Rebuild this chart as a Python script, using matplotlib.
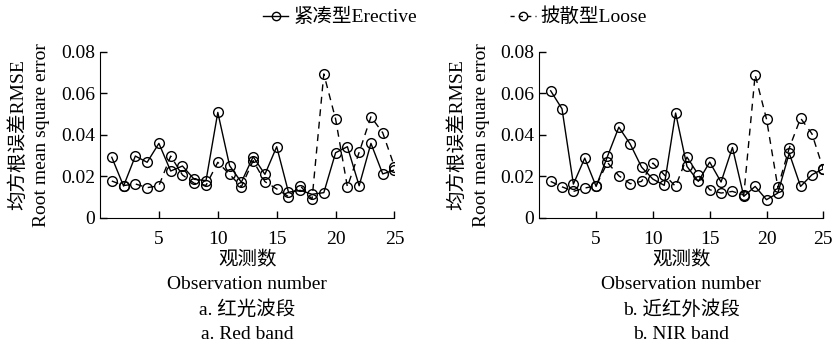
import matplotlib
matplotlib.use('Agg')
import matplotlib.pyplot as plt
from matplotlib.lines import Line2D

plt.rcParams['font.family'] = ['Liberation Serif', 'Noto Sans CJK SC']
plt.rcParams['font.size'] = 14
plt.rcParams['axes.unicode_minus'] = False

obs = list(range(1, 26))

# a. Red band
red_erective = [0.0292, 0.0154, 0.0298, 0.0268, 0.0359, 0.0226, 0.0250, 0.0186, 0.0180, 0.0508,
                0.0252, 0.0172, 0.0295, 0.0210, 0.0343, 0.0124, 0.0133, 0.0114, 0.0122, 0.0314,
                0.0343, 0.0155, 0.0359, 0.0212, 0.0231]
red_loose = [0.0178, 0.0156, 0.0164, 0.0146, 0.0155, 0.0298, 0.0207, 0.0167, 0.0157, 0.0268,
             0.0210, 0.0150, 0.0276, 0.0175, 0.0140, 0.0103, 0.0155, 0.0090, 0.0693, 0.0476,
             0.0150, 0.0316, 0.0487, 0.0410, 0.0247]

# b. NIR band
nir_erective = [0.0612, 0.0525, 0.0163, 0.0288, 0.0152, 0.0296, 0.0437, 0.0356, 0.0245, 0.0187,
                0.0157, 0.0505, 0.0248, 0.0176, 0.0269, 0.0173, 0.0339, 0.0104, 0.0152, 0.0088,
                0.0120, 0.0312, 0.0152, 0.0208, 0.0237]
nir_loose = [0.0176, 0.0150, 0.0128, 0.0144, 0.0155, 0.0267, 0.0203, 0.0165, 0.0176, 0.0264,
             0.0208, 0.0152, 0.0293, 0.0208, 0.0136, 0.0120, 0.0128, 0.0110, 0.0689, 0.0476,
             0.0147, 0.0336, 0.0480, 0.0405, 0.0235]

W, H = 833, 347
fig = plt.figure(figsize=(W / 100, H / 100), dpi=100)

ax1 = fig.add_axes([100 / W, 1 - 218 / H, 294.5 / W, 166.3 / H])
ax2 = fig.add_axes([539.3 / W, 1 - 218 / H, 284 / W, 166.3 / H])

panels = [
    (ax1, red_erective, red_loose, 'a. 红光波段\na. Red band', 18, 42),
    (ax2, nir_erective, nir_loose, 'b. 近红外波段\nb. NIR band', 457, 482),
]

for ax, ere, loo, cap, xl1, xl2 in panels:
    ax.plot(obs, ere, '-o', color='black', lw=1.0, ms=7, mfc='none', mew=1.0)
    ax.plot(obs, loo, '--o', color='black', lw=1.0, ms=7, mfc='none', mew=1.0, dashes=(5, 4))
    ax.set_xlim(0, 25)
    ax.set_ylim(0, 0.08)
    ax.set_xticks([5, 10, 15, 20, 25])
    ax.set_yticks([0, 0.02, 0.04, 0.06, 0.08])
    ax.set_yticklabels(['0', '0.02', '0.04', '0.06', '0.08'])
    ax.spines['top'].set_visible(False)
    ax.spines['right'].set_visible(False)
    ax.tick_params(direction='in', length=5, width=1, labelsize=14)
    ax.tick_params(axis='x', pad=9)
    ax.set_xlabel('观测数\nObservation number\n' + cap, linespacing=1.5, labelpad=3)
    fig.text(xl1 / W, 1 - 135 / H, '均方根误差RMSE', rotation=90, ha='center', va='center')
    fig.text(xl2 / W, 1 - 135 / H, 'Root mean square error', rotation=90, ha='center', va='center')

# legend proxies with shorter dashes so the small handle reads "-o-"
h1 = Line2D([], [], color='black', lw=1.0, marker='o', ms=6, mfc='none', mew=1.0)
h2 = Line2D([], [], color='black', lw=1.0, marker='o', ms=6, mfc='none', mew=1.0,
            linestyle=(0, (3, 3)))
fig.legend(handles=[h1, h2], labels=['紧凑型Erective', '披散型Loose'], loc='center',
           bbox_to_anchor=(455 / W, 1 - 17 / H), ncol=2, frameon=False, handlelength=1.3,
           handletextpad=0.25, columnspacing=4.8, fontsize=14)

fig.savefig('out.png', dpi=100)
